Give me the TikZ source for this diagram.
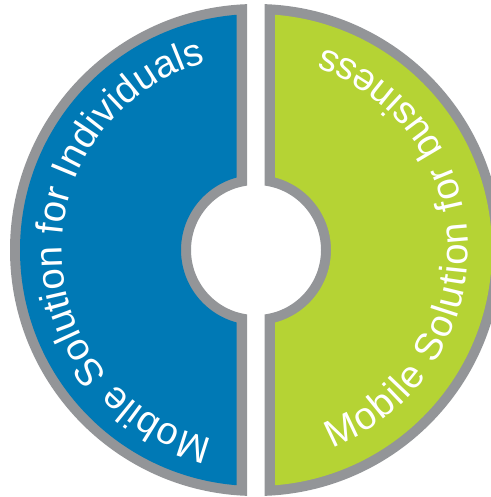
\documentclass[tikz,border=0pt]{standalone}
\usepackage{fontspec}
\setmainfont{Liberation Sans}
\usetikzlibrary{decorations.text}
\definecolor{ringgray}{HTML}{939598}
\definecolor{solblue}{HTML}{0079B5}
\definecolor{solgreen}{HTML}{B5D334}
\newcommand{\labelfont}{\fontsize{38.5}{38.5}\selectfont}
\tikzset{
  seglabel/.style={decorate,decoration={text along path,text color=white,text align={fit to path},
     text={|\labelfont|#1}}}
}
\begin{document}
\begin{tikzpicture}[x=1bp,y=-1bp]
\useasboundingbox (0,0) rectangle (491,497);
\begin{scope}
\clip (0,0) rectangle (491,497);
% left half
\begin{scope}
\clip (0,0) rectangle (247,497);
\fill[ringgray,even odd rule] (256,250) circle[radius=246] (256,250) circle[radius=65];
\end{scope}
\begin{scope}
\clip (0,0) rectangle (236.7,497);
\fill[solblue,even odd rule] (256,250) circle[radius=236] (256,250) circle[radius=75];
\end{scope}
% right half
\begin{scope}
\clip (264.5,0) rectangle (491,497);
\fill[ringgray,even odd rule] (256,250) circle[radius=246] (256,250) circle[radius=65];
\end{scope}
\begin{scope}
\clip (275,0) rectangle (491,497);
\fill[solgreen,even odd rule] (256,250) circle[radius=236] (256,250) circle[radius=75];
\end{scope}
\end{scope}
% y axis flipped: angle a gives (cos a, -sin a) in picture
\path[seglabel={Mobile Solution for Individuals}]
  (256,250) ++(103:194) arc[start angle=103,end angle=255,radius=194];
\path[seglabel={Mobile Solution for business}]
  (256,250) ++(68.8:212) arc[start angle=68.8,end angle=-71.5,radius=212];
\end{tikzpicture}
\end{document}
